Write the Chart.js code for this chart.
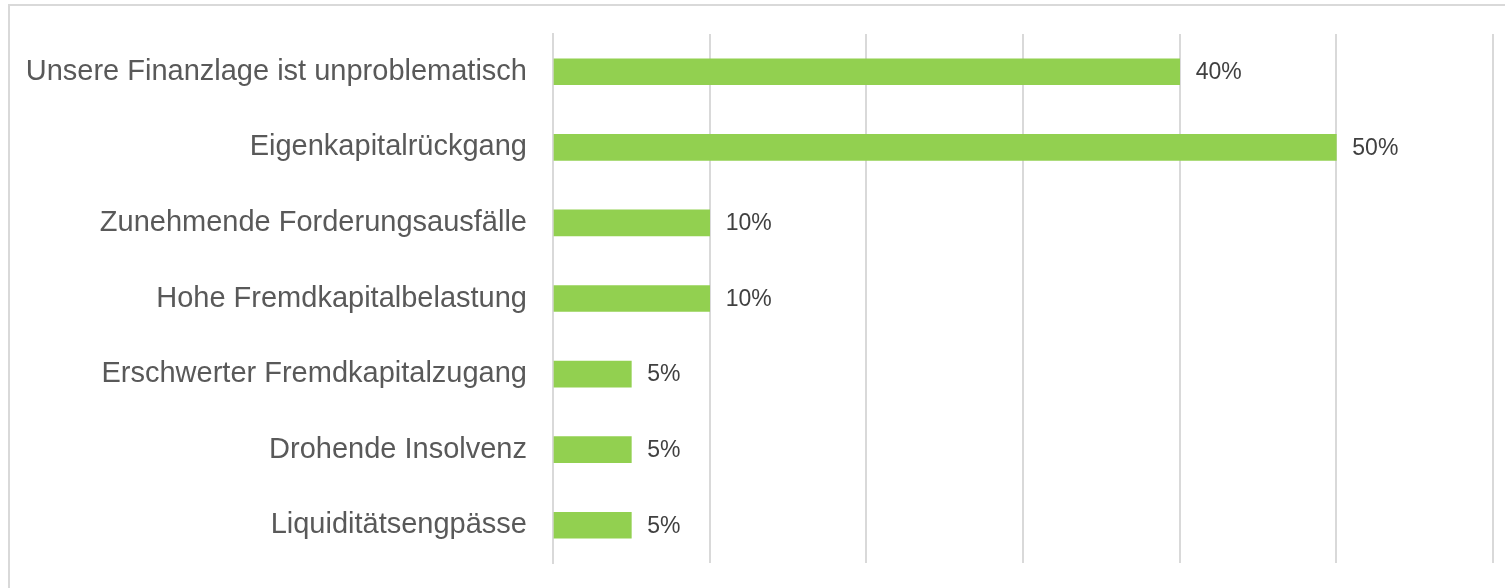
<!DOCTYPE html>
<html>
<head>
<meta charset="utf-8">
<script src="https://cdn.jsdelivr.net/npm/chart.js@4/dist/chart.umd.min.js"></script>
<style>
html,body{margin:0;padding:0;background:#fff;}
#wrap{width:1505px;height:588px;position:relative;}
</style>
</head>
<body>
<div id="wrap"><canvas id="c" width="1505" height="588"></canvas></div>
<script>
const categories = [
  "Unsere Finanzlage ist unproblematisch",
  "Eigenkapitalrückgang",
  "Zunehmende Forderungsausfälle",
  "Hohe Fremdkapitalbelastung",
  "Erschwerter Fremdkapitalzugang",
  "Drohende Insolvenz",
  "Liquiditätsengpässe"
];
const values = [40, 50, 10, 10, 5, 5, 5];
const axisMax = 60;
const axisStep = 10;

const framePlugin = {
  id: 'frame',
  beforeDraw(chart) {
    const ctx = chart.ctx;
    ctx.save();
    ctx.fillStyle = '#ffffff';
    ctx.fillRect(0, 0, chart.width, chart.height);
    ctx.strokeStyle = '#d9d9d9';
    ctx.lineWidth = 2;
    ctx.strokeRect(9, 5, chart.width + 20, chart.height + 20);
    ctx.restore();
  }
};

const labelPlugin = {
  id: 'valueLabels',
  afterDatasetsDraw(chart) {
    const ctx = chart.ctx;
    const meta = chart.getDatasetMeta(0);
    ctx.save();
    ctx.font = '23px "Liberation Sans", Arial, sans-serif';
    ctx.fillStyle = '#404040';
    ctx.textAlign = 'left';
    ctx.textBaseline = 'middle';
    meta.data.forEach((bar, i) => {
      ctx.fillText(values[i] + '%', bar.x + 16, bar.y + 1);
    });
    ctx.restore();
  }
};

new Chart(document.getElementById('c'), {
  type: 'bar',
  data: {
    labels: categories,
    datasets: [{
      data: values,
      backgroundColor: '#92d050',
      borderWidth: 0,
      barThickness: 26
    }]
  },
  options: {
    indexAxis: 'y',
    responsive: false,
    animation: false,
    layout: { padding: { left: 0, right: 12, top: 34, bottom: 25 } },
    plugins: { legend: { display: false }, tooltip: { enabled: false } },
    scales: {
      x: {
        min: 0,
        max: axisMax,
        ticks: { display: false, stepSize: axisStep },
        grid: { color: '#d9d9d9', lineWidth: 2, drawTicks: false },
        border: { display: false },
        afterFit(scale) { scale.height = 0; }
      },
      y: {
        afterFit(scale) { scale.width = 553; scale.paddingTop = 0; scale.paddingBottom = 0; },
        ticks: {
          color: '#595959',
          padding: 26,
          font: { family: '"Liberation Sans", Arial, sans-serif', size: 29 }
        },
        grid: { display: false, drawTicks: false },
        border: { display: true, color: '#d9d9d9', width: 2 }
      }
    }
  },
  plugins: [framePlugin, labelPlugin]
});
</script>
</body>
</html>
